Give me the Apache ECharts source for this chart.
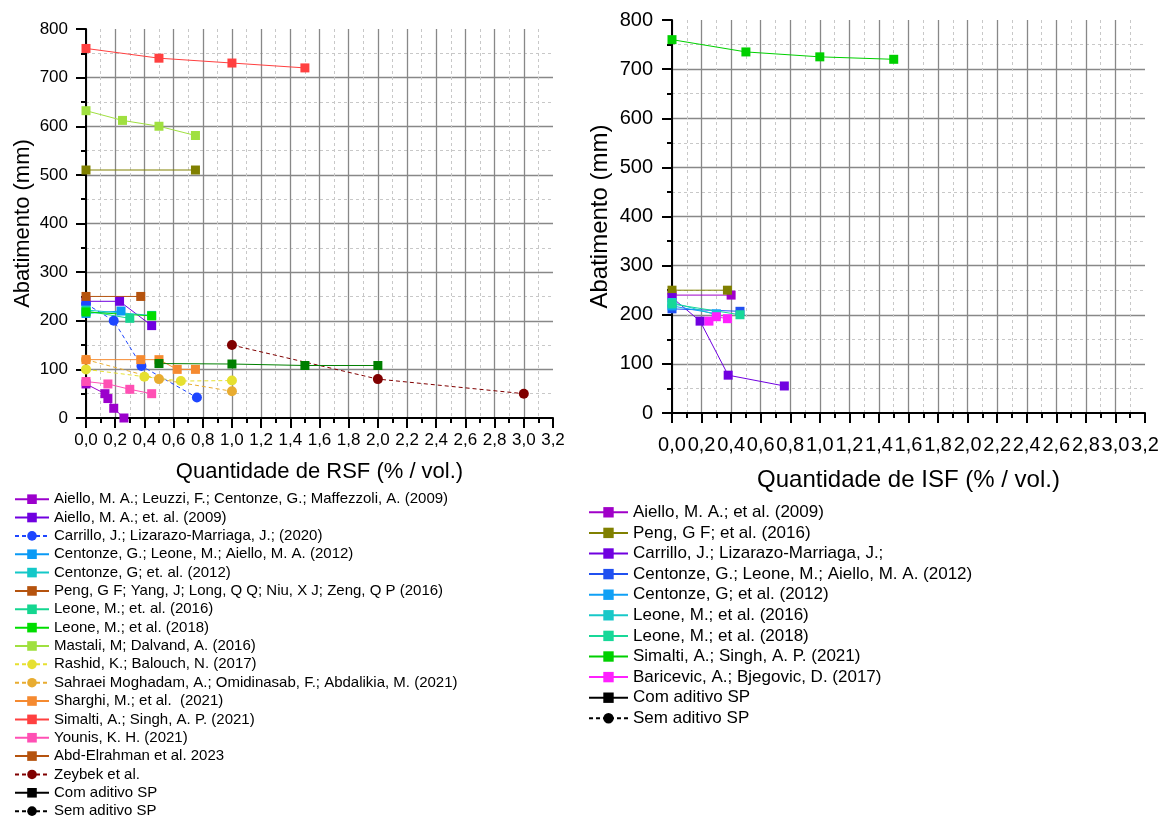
<!DOCTYPE html>
<html>
<head>
<meta charset="utf-8">
<script src="https://cdn.jsdelivr.net/npm/echarts@6/dist/echarts.min.js"></script>
<style>
html,body{margin:0;padding:0;background:#fff;}
#c{width:1168px;height:818px;}
</style>
</head>
<body>
<div id="c"></div>
<script>
// ---------- Left chart (RSF) data: [x (% vol), abatimento (mm)] ----------
const rsfAielloLeuzzi = [[0,70],[0.13,50],[0.15,40],[0.19,20],[0.26,0]];
const rsfAielloEtAl = [[0,240],[0.23,240],[0.45,190]];
const rsfCarrillo = [[0,235],[0.19,200],[0.38,107],[0.76,42]];
const rsfCentonzeLeone = [[0,215],[0.24,220]];
const rsfCentonzeEtAl = [[0,222],[0.45,211]];
const rsfPeng = [[0,250],[0.375,250]];
const rsfLeone2016 = [[0,220],[0.3,205]];
const rsfLeone2018 = [[0,218],[0.45,210]];
const rsfMastali = [[0,632],[0.25,612],[0.5,600],[0.75,581]];
const rsfRashid = [[0,100],[0.4,85],[0.65,76],[1.0,77]];
const rsfSahraei = [[0,120],[0.5,80],[1.0,55]];
const rsfSharghi = [[0,120],[0.375,120],[0.5,120],[0.625,100],[0.75,100]];
const rsfSimalti = [[0,760],[0.5,740],[1.0,730],[1.5,720]];
const rsfYounis = [[0,75],[0.15,70],[0.3,59],[0.45,50]];
const rsfAbdElrahman = [[0,510],[0.75,510]];
const rsfZeybek = [[1.0,150],[2.0,80],[3.0,50]];
const rsfUnlabeled = [[0.5,112],[1.0,111],[1.5,108],[2.0,108]];

// ---------- Right chart (ISF) data ----------
const isfAiello = [[0,240],[0.4,240]];
const isfPeng = [[0,250],[0.375,250]];
const isfCarrillo = [[0,235],[0.19,187],[0.38,77],[0.76,55]];
const isfCentonzeLeone = [[0,212],[0.46,207]];
const isfCentonzeEtAl = [[0,218],[0.3,202]];
const isfLeone2016 = [[0,225],[0.3,200]];
const isfLeone2018 = [[0,222],[0.46,200]];
const isfSimalti = [[0,760],[0.5,735],[1.0,725],[1.5,720]];
const isfBaricevic = [[0.25,187],[0.3,196],[0.375,192]];

// ---------- Axis ticks ----------
const xMin = 0, xMax = 3.2, xStep = 0.2;
const yMin = 0, yMax = 800, yStep = 100;

const chart = echarts.init(document.getElementById('c'));
const FONT = 'Liberation Sans, Arial, sans-serif';

function S(name, data, color, idx, opts) {
  opts = opts || {};
  return {
    type: 'line', name: name, data: data,
    xAxisIndex: idx, yAxisIndex: idx,
    symbol: opts.symbol || 'rect',
    symbolSize: opts.size || 9,
    showSymbol: true,
    itemStyle: {color: color},
    lineStyle: {color: opts.lineColor || color, width: 1, type: opts.dashed ? [4,3] : 'solid'},
    z: opts.z || 2,
    animation: false
  };
}

function xAxis(idx, fs, margin, name, nameFs, nameGap) {
  return {
    type: 'value', gridIndex: idx, min: xMin, max: xMax, interval: xStep,
    name: name, nameLocation: 'middle', nameGap: nameGap,
    nameTextStyle: {fontSize: nameFs, color: '#000', fontFamily: FONT},
    axisLine: {show: true, onZero: false, lineStyle: {color: '#000', width: 2}},
    axisTick: {show: true, inside: false, length: 10, lineStyle: {color: '#000', width: 2}},
    minorTick: {show: true, splitNumber: 2, length: 5, lineStyle: {color: '#000', width: 2}},
    axisLabel: {fontSize: fs, color: '#000', fontFamily: FONT, margin: margin,
      formatter: v => v.toFixed(1).replace('.', ',')},
    splitLine: {show: true, showMaxLine: false, lineStyle: {color: '#888888', width: 1.3}},
    minorSplitLine: {show: true, lineStyle: {color: '#c8c8c8', width: 1, type: [3,3]}}
  };
}
function yAxis(idx, fs, margin, name, nameFs, nameGap) {
  return {
    type: 'value', gridIndex: idx, min: yMin, max: yMax, interval: yStep,
    name: name, nameLocation: 'middle', nameGap: nameGap,
    nameTextStyle: {fontSize: nameFs, color: '#000', fontFamily: FONT},
    axisLine: {show: true, onZero: false, lineStyle: {color: '#000', width: 2}},
    axisTick: {show: true, inside: false, length: 10, lineStyle: {color: '#000', width: 2}},
    minorTick: {show: true, splitNumber: 2, length: 5, lineStyle: {color: '#000', width: 2}},
    axisLabel: {fontSize: fs, color: '#000', fontFamily: FONT, margin: margin},
    splitLine: {show: true, showMaxLine: false, showMinLine: false, lineStyle: {color: '#888888', width: 1.3}},
    minorSplitLine: {show: true, lineStyle: {color: '#c8c8c8', width: 1, type: [3,3]}}
  };
}

const leftSeries = [
  S('Aiello, M. A.; Leuzzi, F.; Centonze, G.; Maffezzoli, A. (2009)', rsfAielloLeuzzi, '#9B00CC', 0),
  S('Aiello, M. A.; et. al. (2009)', rsfAielloEtAl, '#7000E0', 0),
  S('Carrillo, J.; Lizarazo-Marriaga, J.; (2020)', rsfCarrillo, '#1E46FF', 0, {symbol:'circle', size:10, dashed:true}),
  S('Centonze, G.; Leone, M.; Aiello, M. A. (2012)', rsfCentonzeLeone, '#0A9AF5', 0),
  S('Centonze, G; et. al. (2012)', rsfCentonzeEtAl, '#14C8C8', 0),
  S('Peng, G F; Yang, J; Long, Q Q; Niu, X J; Zeng, Q P (2016)', rsfPeng, '#B5530E', 0),
  S('Leone, M.; et. al. (2016)', rsfLeone2016, '#14D690', 0),
  S('Leone, M.; et al. (2018)', rsfLeone2018, '#00DD00', 0),
  S('Mastali, M; Dalvand, A. (2016)', rsfMastali, '#A0E040', 0),
  S('Rashid, K.; Balouch, N. (2017)', rsfRashid, '#E6E030', 0, {symbol:'circle', size:10, dashed:true}),
  S('Sahraei Moghadam, A.; Omidinasab, F.; Abdalikia, M. (2021)', rsfSahraei, '#E8AC30', 0, {symbol:'circle', size:10, dashed:true}),
  S('Sharghi, M.; et al.  (2021)', rsfSharghi, '#F58A30', 0),
  S('Simalti, A.; Singh, A. P. (2021)', rsfSimalti, '#FF4040', 0),
  S('Younis, K. H. (2021)', rsfYounis, '#FF50B4', 0),
  S('Abd-Elrahman et al. 2023', rsfAbdElrahman, '#808000', 0),
  S('Zeybek et al.', rsfZeybek, '#800000', 0, {symbol:'circle', size:10, dashed:true}),
  S('_extra_', rsfUnlabeled, '#007F00', 0),
  S('Com aditivo SP', [], '#000000', 0),
  S('Sem aditivo SP', [], '#000000', 0, {symbol:'circle', dashed:true})
];
const rightSeries = [
  S('Aiello, M. A.; et al. (2009)', isfAiello, '#A000C8', 1),
  S('Peng, G F; et al. (2016)', isfPeng, '#808000', 1),
  S('Carrillo, J.; Lizarazo-Marriaga, J.;', isfCarrillo, '#7000E0', 1),
  S('Centonze, G.; Leone, M.; Aiello, M. A. (2012) ', isfCentonzeLeone, '#2050F0', 1),
  S('Centonze, G; et al. (2012)', isfCentonzeEtAl, '#10A0F5', 1),
  S('Leone, M.; et al. (2016)', isfLeone2016, '#18C8C8', 1),
  S('Leone, M.; et al. (2018) ', isfLeone2018, '#18D898', 1),
  S('Simalti, A.; Singh, A. P. (2021) ', isfSimalti, '#00D000', 1),
  S('Baricevic, A.; Bjegovic, D. (2017)', isfBaricevic, '#FF20FF', 1),
  S('Com aditivo SP ', [], '#000000', 1),
  S('Sem aditivo SP ', [], '#000000', 1, {symbol:'circle', dashed:true})
];

const leftNames = leftSeries.map(s => s.name).filter(n => n !== '_extra_')
  .map(n => n === 'Abd-Elrahman et al. 2023'
    ? {name: n, itemStyle: {color: '#B5530E'}, lineStyle: {color: '#B5530E'}} : n);
const rightNames = rightSeries.map(s => s.name);

chart.setOption({
  backgroundColor: '#ffffff',
  animation: false,
  textStyle: {fontFamily: FONT},
  grid: [
    {left: 86, top: 29, width: 467, height: 389},
    {left: 672, top: 20, width: 473, height: 393}
  ],
  xAxis: [
    xAxis(0, 17, 14, 'Quantidade de RSF (% / vol.)', 22, 43),
    xAxis(1, 20, 22, 'Quantidade de ISF (% / vol.)', 24, 55)
  ],
  yAxis: [
    yAxis(0, 17, 18, 'Abatimento (mm)', 22, 52),
    yAxis(1, 20, 19, 'Abatimento (mm)', 24, 60)
  ],
  legend: [
    {data: leftNames, orient: 'vertical', left: 14, top: 491, height: 360, padding: 0,
     itemWidth: 34, itemHeight: 12, itemGap: 2, selectedMode: false,
     textStyle: {fontSize: 15, color: '#000', fontFamily: FONT, lineHeight: 16.35}},
    {data: rightNames, orient: 'vertical', left: 588, top: 503, height: 300, padding: 0,
     itemWidth: 39, itemHeight: 13, itemGap: 2, selectedMode: false,
     textStyle: {fontSize: 17, color: '#000', fontFamily: FONT, lineHeight: 18.6}}
  ],
  series: leftSeries.concat(rightSeries)
});
</script>
</body>
</html>
